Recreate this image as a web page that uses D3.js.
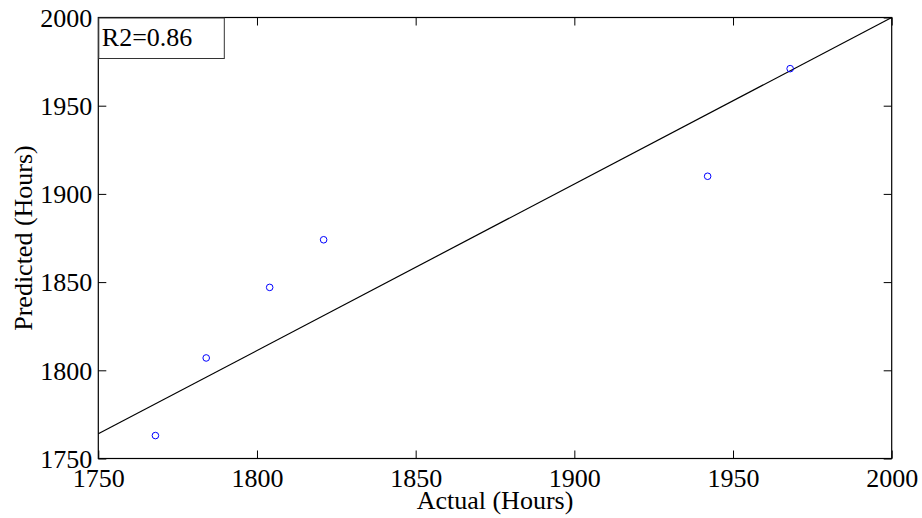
<!DOCTYPE html>
<html>
<head>
<meta charset="utf-8">
<script src="https://cdn.jsdelivr.net/npm/d3@7"></script>
<style>
  html, body { margin: 0; padding: 0; background: #fff; }
  svg, svg text { font-family: "Liberation Serif", "Times New Roman", Times, serif !important; }
</style>
</head>
<body>
<div id="chart"></div>
<script>
// scatter of actual vs predicted hours, with fit line and R2 box

const actualHours = [1768, 1784, 1804, 1821, 1942, 1968];
const predictedHours = [1763, 1807, 1847, 1874, 1910, 1971];
const fitX = [1750, 2000];
const fitY = [1764, 2000];
const xTicks = [1750, 1800, 1850, 1900, 1950, 2000];
const yTicks = [1750, 1800, 1850, 1900, 1950, 2000];
const r2Label = 'R2=0.86';

const width = 922;
const height = 518;
const margin = { top: 17.5, right: 30.3, bottom: 59.5, left: 98.3 };
const innerW = width - margin.left - margin.right;
const innerH = height - margin.top - margin.bottom;
const tickLen = 8;
const fontSize = 26;
const serif = '"Liberation Serif", "Times New Roman", Times, serif';

const svg = d3.select('#chart').append('svg')
  .attr('width', width)
  .attr('height', height);

const g = svg.append('g')
  .attr('transform', `translate(${margin.left},${margin.top})`);

const x = d3.scaleLinear().domain([1750, 2000]).range([0, innerW]);
const y = d3.scaleLinear().domain([1750, 2000]).range([innerH, 0]);

// Axes (ticks pointing inward, on all four sides)
const styleAxis = sel => {
  sel.attr('font-family', serif).attr('font-size', fontSize);
  sel.select('.domain').remove();
  sel.selectAll('line').attr('stroke', '#000').attr('stroke-width', 1);
  sel.selectAll('text')
    .attr('fill', '#000')
    .style('font-family', serif)
    .style('font-size', fontSize + 'px');
};

g.append('g')
  .attr('transform', `translate(0,${innerH})`)
  .call(d3.axisBottom(x).tickValues(xTicks).tickFormat(d3.format('d')).tickSizeInner(-tickLen))
  .call(styleAxis)
  .selectAll('text').attr('y', 28).attr('dy', 0);

g.append('g')
  .call(d3.axisTop(x).tickValues(xTicks).tickFormat('').tickSizeInner(-tickLen))
  .call(styleAxis);

g.append('g')
  .call(d3.axisLeft(y).tickValues(yTicks).tickFormat(d3.format('d')).tickSizeInner(-tickLen).tickPadding(6))
  .call(styleAxis)
  .selectAll('text').attr('dy', '0.34em');

g.append('g')
  .attr('transform', `translate(${innerW},0)`)
  .call(d3.axisRight(y).tickValues(yTicks).tickFormat('').tickSizeInner(-tickLen))
  .call(styleAxis);

// Frame
g.append('rect')
  .attr('width', innerW)
  .attr('height', innerH)
  .attr('fill', 'none')
  .attr('stroke', '#000')
  .attr('stroke-width', 1.2);

// Fit line
const line = d3.line()
  .x(d => x(d[0]))
  .y(d => y(d[1]));

g.append('path')
  .datum(d3.zip(fitX, fitY))
  .attr('fill', 'none')
  .attr('stroke', '#000')
  .attr('stroke-width', 1.2)
  .attr('d', line);

// Points
g.selectAll('.dot')
  .data(d3.zip(actualHours, predictedHours))
  .join('circle')
  .attr('class', 'dot')
  .attr('cx', d => x(d[0]))
  .attr('cy', d => y(d[1]))
  .attr('r', 3.3)
  .attr('fill', 'none')
  .attr('stroke', '#0000ff')
  .attr('stroke-width', 1);

// R2 box
const box = g.append('g');
box.append('rect')
  .attr('x', 0.5)
  .attr('y', 0.5)
  .attr('width', 125.5)
  .attr('height', 40.5)
  .attr('fill', '#fff')
  .attr('stroke', '#333')
  .attr('stroke-width', 1);
box.append('text')
  .attr('x', 3.5)
  .attr('y', 28.5)
  .style('font-family', serif)
  .style('font-size', fontSize + 'px')
  .attr('fill', '#000')
  .text(r2Label);

// Axis labels
svg.append('text')
  .attr('x', margin.left + innerW / 2)
  .attr('y', 509)
  .attr('text-anchor', 'middle')
  .style('font-family', serif)
  .style('font-size', fontSize + 'px')
  .attr('fill', '#000')
  .text('Actual (Hours)');

svg.append('text')
  .attr('transform', `translate(32,${margin.top + innerH / 2}) rotate(-90)`)
  .attr('text-anchor', 'middle')
  .style('font-family', serif)
  .style('font-size', fontSize + 'px')
  .attr('fill', '#000')
  .text('Predicted (Hours)');
</script>
</body>
</html>
